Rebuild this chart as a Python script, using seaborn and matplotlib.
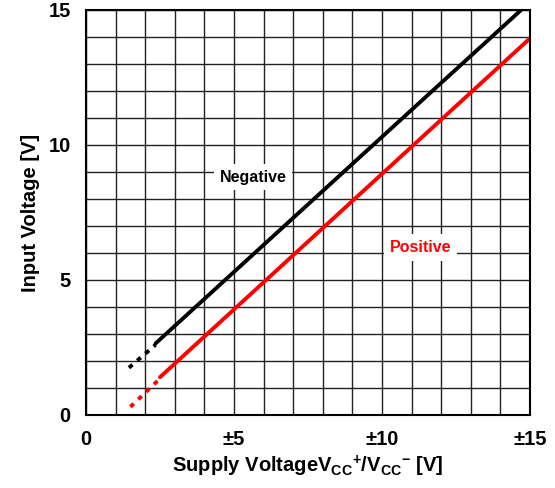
import numpy as np
import pandas as pd
import seaborn as sns
import matplotlib
matplotlib.use("Agg")
import matplotlib.pyplot as plt

# Supply voltage (±V) vs input voltage range limits
negDashX = [1.45, 2.35]
negDashY = [1.75, 2.6]
negSolidX = [2.35, 15.0]
negSolidY = [2.65, 15.3]

posDashX = [1.5, 2.5]
posDashY = [0.3, 1.35]
posSolidX = [2.5, 15.05]
posSolidY = [1.4, 14.0]

xTicks = [0, 5, 10, 15]
xTickLabels = ['0', '±5', '±10', '±15']
yTicks = [0, 5, 10, 15]

sns.set_theme(style="white")
plt.rcParams['font.family'] = ['Liberation Sans', 'DejaVu Sans']
plt.rcParams['mathtext.fontset'] = 'custom'
plt.rcParams['mathtext.rm'] = 'Liberation Sans:bold'
plt.rcParams['mathtext.bf'] = 'Liberation Sans:bold'
plt.rcParams['mathtext.default'] = 'rm'
plt.rcParams['text.color'] = 'black'
plt.rcParams['axes.labelcolor'] = 'black'
plt.rcParams['xtick.color'] = 'black'
plt.rcParams['ytick.color'] = 'black'

fig = plt.figure(figsize=(5.55, 4.88), dpi=100)
ax = fig.add_axes([0.155, 0.1496, 0.80, 0.83])

def seg(xs, ys):
    return pd.DataFrame({'x': xs, 'y': ys})

sns.lineplot(data=seg(negSolidX, negSolidY), x='x', y='y', color='black', lw=2.8, ax=ax)
sns.lineplot(data=seg(negDashX, negDashY), x='x', y='y', color='black', lw=2.8,
             linestyle=(0, (1.2, 1.6)), ax=ax)
sns.lineplot(data=seg(posSolidX, posSolidY), x='x', y='y', color='#ff0000', lw=2.8, ax=ax)
sns.lineplot(data=seg(posDashX, posDashY), x='x', y='y', color='#ff0000', lw=2.8,
             linestyle=(0, (1.2, 1.6)), ax=ax)

ax.set_xlim(0, 15)
ax.set_ylim(0, 15)
ax.set_xticks(np.arange(0, 16, 1), minor=True)
ax.set_yticks(np.arange(0, 16, 1), minor=True)
ax.set_xticks(xTicks)
ax.set_xticklabels(xTickLabels)
ax.set_yticks(yTicks)
ax.grid(which='both', color='#222222', lw=1.0)
ax.set_axisbelow(True)
ax.tick_params(which='both', length=0, labelsize=14.5, pad=11)
for lbl in ax.get_xticklabels() + ax.get_yticklabels():
    lbl.set_fontweight('bold')
for s in ax.spines.values():
    s.set_color('black')
    s.set_linewidth(1.5)

ax.text(5.65, 8.8, 'Negative', fontsize=11.5, fontweight='bold', color='black',
        ha='center', va='center',
        bbox=dict(facecolor='white', edgecolor='none', pad=4))
ax.text(11.3, 6.2, 'Positive', fontsize=11.5, fontweight='bold', color='#ff0000',
        ha='center', va='center',
        bbox=dict(facecolor='white', edgecolor='none', pad=4))

ax.set_xlabel(r'Supply VoltageV$_{CC}$$^{+}$/V$_{CC}$$^{-}$ [V]', fontsize=14.5,
              fontweight='bold', labelpad=3)
ax.set_ylabel('Input Voltage [V]', fontsize=14.5, fontweight='bold', labelpad=6)

fig.savefig('out.png', dpi=100)
